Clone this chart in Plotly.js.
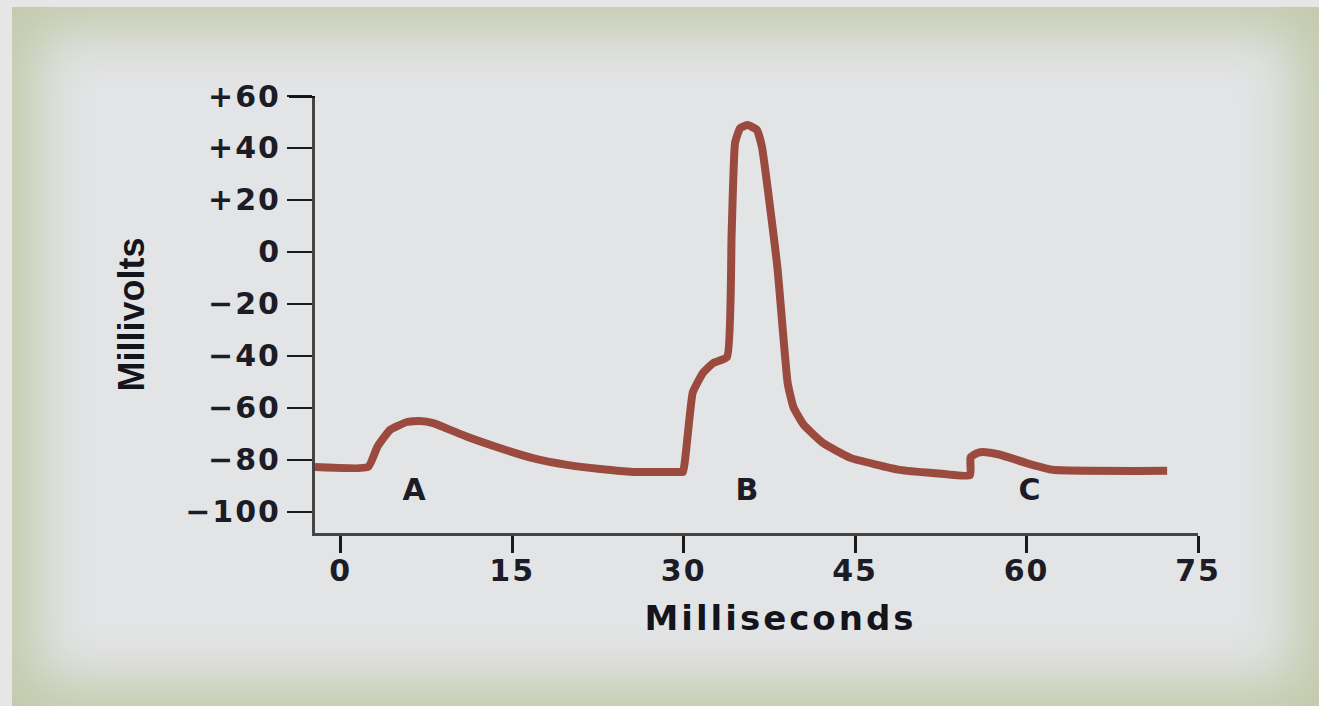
<!DOCTYPE html>
<html>
<head>
<meta charset="utf-8">
<script src="https://cdn.plot.ly/plotly-3.0.1.min.js"></script>
<style>
  html, body { margin:0; padding:0; width:1319px; height:706px; overflow:hidden; background:#e6e6e6; }
  #frame { position:absolute; left:12px; top:7px; width:1307px; height:699px; background:#e3e4e6;
           box-shadow: inset 0 0 55px 24px #c2caab; }
  #chart { position:absolute; left:0; top:0; width:1319px; height:706px; }
  #chart .xtick text, #chart .ytick text { letter-spacing: 2px; }
  #chart .xtitle { letter-spacing: 3px; transform: translateX(24px); }
  #chart .annotation-text { letter-spacing: 1px; }
</style>
</head>
<body>
<div id="frame"></div>
<div id="chart"></div>
<script>
// Membrane potential trace (milliseconds vs millivolts)
const timeMs = [-2.25, 2.4, 3.2, 4.3, 5.8, 6.9, 8.1, 11.0, 13.9, 16.8, 19.8, 22.7, 25.6, 29.7,
  29.95, 30.8, 31.7, 32.6, 33.8, 34.2, 34.5, 34.95, 35.6, 36.4, 36.85, 38.2, 39.1, 39.6, 40.5, 42.2, 44.6,
  48.9, 51.8, 55.06, 55.1, 55.7, 56.4, 57.7, 60.0, 62.3, 72.3];
const millivolts = [-82.7, -82.7, -75, -68.5, -65.4, -65, -65.8, -71, -75.4, -79.3, -81.9, -83.5, -84.6, -84.6,
  -84.6, -54, -46.5, -42.7, -40.4, 7.3, 42, 47.7, 48.8, 47, 40.4, -5.8, -50.4, -59.6, -66.5, -73.5, -79.2,
  -83.8, -85, -85.8, -79, -77.3, -77, -78, -81.2, -83.8, -84.2];

const yTickVals = [-100, -80, -60, -40, -20, 0, 20, 40, 60];
const yTickText = ["\u2212100", "\u221280", "\u221260", "\u221240", "\u221220", "0", "+20", "+40", "+60"];
const xTickVals = [0, 15, 30, 45, 60, 75];
const xTickText = ["0", "15", "30", "45", "60", "75"];

const markerLabels = ["A", "B", "C"];
const markerX = [6.5, 35.6, 60.3];
const markerY = [-91.5, -91.5, -91.5];

const trace = {
  x: timeMs, y: millivolts, type: 'scatter', mode: 'lines',
  line: { color: '#9a4a3e', width: 8, shape: 'spline', smoothing: 0.4 },
  hoverinfo: 'skip', showlegend: false
};

const tickFont = { family: 'DejaVu Sans', size: 30, color: '#1c1c26', weight: 'bold' };

const layout = {
  width: 1319, height: 706,
  paper_bgcolor: 'rgba(0,0,0,0)', plot_bgcolor: 'rgba(0,0,0,0)',
  margin: { l: 315, r: 121, t: 96, b: 173 },
  showlegend: false,
  xaxis: {
    range: [-2.25, 75], tickmode: 'array', tickvals: xTickVals, ticktext: xTickText,
    ticks: 'outside', ticklen: 17, tickwidth: 3, tickcolor: '#1a1a1a',
    showline: true, linewidth: 3, linecolor: '#444', showgrid: false, zeroline: false,
    tickfont: tickFont, ticklabelstandoff: -8,
    title: { text: 'Milliseconds', font: { family: 'DejaVu Sans', size: 34, color: '#14141c', weight: 'bold' }, standoff: 20 },
    fixedrange: true
  },
  yaxis: {
    range: [-108.1, 60], tickmode: 'array', tickvals: yTickVals, ticktext: yTickText,
    ticks: 'outside', ticklen: 25, tickwidth: 2, tickcolor: '#1a1a1a',
    showline: true, linewidth: 3, linecolor: '#444', showgrid: false, zeroline: false,
    tickfont: tickFont,
    title: { text: 'Millivolts', font: { family: 'Liberation Sans', size: 36, color: '#14141c', weight: 'bold' }, standoff: 38 },
    fixedrange: true
  },
  shapes: [
    { type: 'line', xref: 'paper', yref: 'y', x0: -26 / 883, x1: 0, y0: 60, y1: 60,
      line: { color: '#111', width: 4 } }
  ],
  annotations: markerLabels.map((t, i) => ({
    x: markerX[i], y: markerY[i], xref: 'x', yref: 'y', text: t, showarrow: false,
    font: { family: 'DejaVu Sans', size: 30, color: '#1c1c26', weight: 'bold' }
  }))
};

Plotly.newPlot('chart', [trace], layout, { staticPlot: true, displayModeBar: false });
</script>
</body>
</html>
